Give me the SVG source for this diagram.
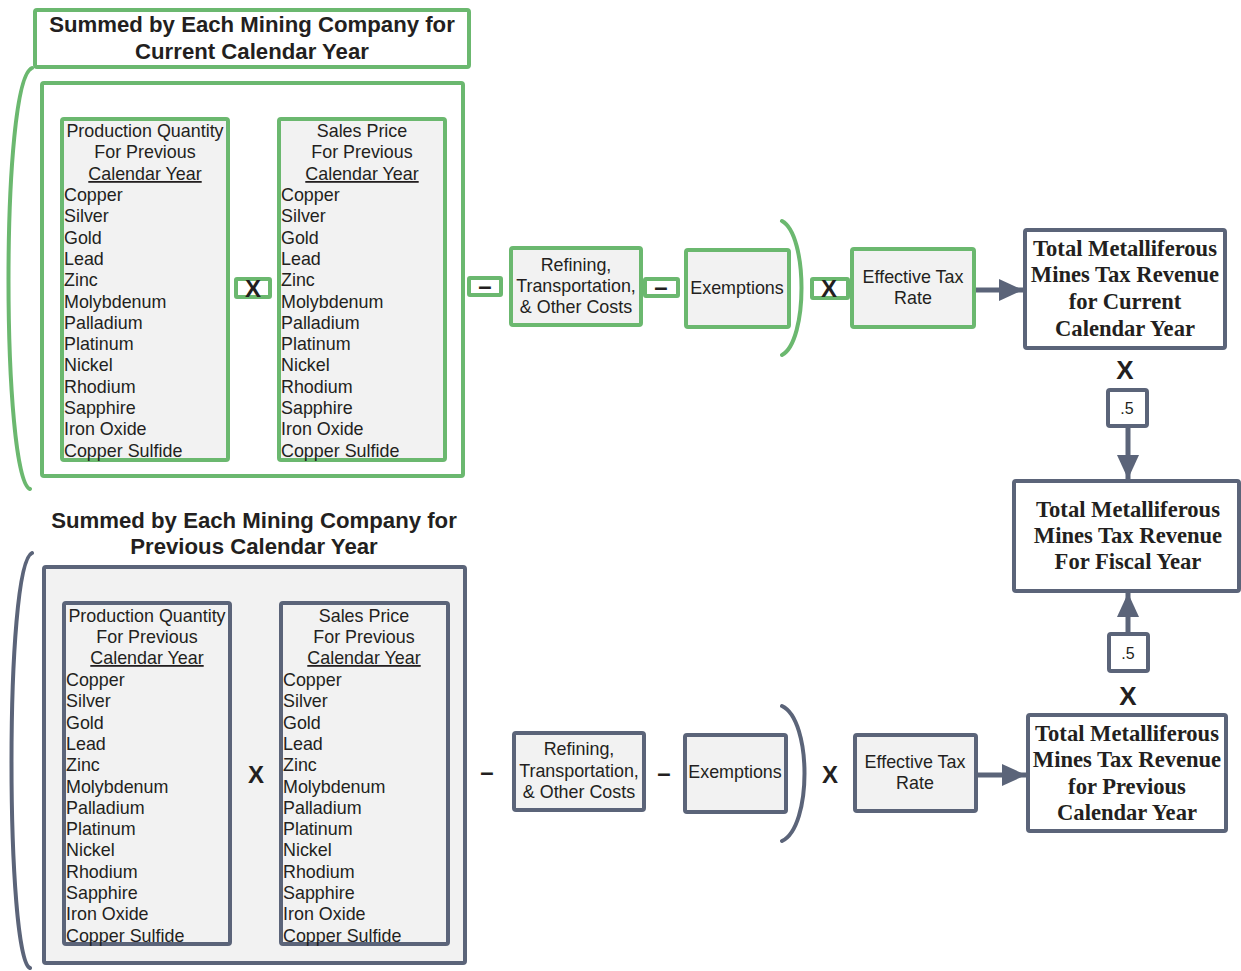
<svg xmlns="http://www.w3.org/2000/svg" width="1241" height="971" viewBox="0 0 1241 971">
<defs>
<style>
.g{stroke:#6bb86f;stroke-width:4;}
.s{stroke:#5b6479;stroke-width:4;}
.fw{fill:#ffffff;}
.fg{fill:#f2f2f2;}
.br{fill:none;stroke-width:4;stroke-linecap:round;}
text{font-family:"Liberation Sans",Arial,sans-serif;fill:#231f20;}
.t{font-size:17.9px;}
.c{text-anchor:middle;}
.u{text-decoration:underline;}
.title{font-size:22.2px;font-weight:bold;text-anchor:middle;}
.op{font-size:24px;font-weight:bold;text-anchor:middle;}
.sr{font-family:"Liberation Serif","Times New Roman",serif;font-size:22.6px;font-weight:bold;text-anchor:middle;}
.half{font-size:16px;text-anchor:middle;}
</style>
<marker id="ah" markerUnits="userSpaceOnUse" markerWidth="26" markerHeight="22" refX="24" refY="11" orient="auto">
<path d="M0,0 L24,11 L0,22 z" fill="#5b6479"/>
</marker>
</defs>

<g id="title-current">
<rect x="35" y="10" width="434" height="57" rx="2" class="g fw"/>
<text class="title" x="252" y="32">Summed by Each Mining Company for</text>
<text class="title" x="252" y="59">Current Calendar Year</text>
</g>

<g id="bracket-current"><path class="br" stroke="#6bb86f" d="M32,68 C0,80 2,480 30,489"/></g>

<g id="container-current"><rect x="42" y="83" width="421" height="393" rx="2" class="g fw"/></g>

<g id="qty-current">
<rect x="62" y="119" width="166" height="341" rx="2" class="g fg"/>
<text class="t c" x="145" y="137">Production Quantity</text>
<text class="t c" x="145" y="158">For Previous</text>
<text class="t c u" x="145" y="180">Calendar Year</text>
<text class="t" x="64" y="201">Copper</text>
<text class="t" x="64" y="222.3">Silver</text>
<text class="t" x="64" y="243.6">Gold</text>
<text class="t" x="64" y="264.9">Lead</text>
<text class="t" x="64" y="286.2">Zinc</text>
<text class="t" x="64" y="307.5">Molybdenum</text>
<text class="t" x="64" y="328.8">Palladium</text>
<text class="t" x="64" y="350.1">Platinum</text>
<text class="t" x="64" y="371.4">Nickel</text>
<text class="t" x="64" y="392.7">Rhodium</text>
<text class="t" x="64" y="414">Sapphire</text>
<text class="t" x="64" y="435.3">Iron Oxide</text>
<text class="t" x="64" y="456.6">Copper Sulfide</text>
</g>

<g id="op-x1"><rect x="236" y="279" width="34" height="18" rx="1" class="g fw"/><text class="op" x="253" y="297">X</text></g>

<g id="price-current">
<rect x="279" y="119" width="166" height="341" rx="2" class="g fg"/>
<text class="t c" x="362" y="137">Sales Price</text>
<text class="t c" x="362" y="158">For Previous</text>
<text class="t c u" x="362" y="180">Calendar Year</text>
<text class="t" x="281" y="201">Copper</text>
<text class="t" x="281" y="222.3">Silver</text>
<text class="t" x="281" y="243.6">Gold</text>
<text class="t" x="281" y="264.9">Lead</text>
<text class="t" x="281" y="286.2">Zinc</text>
<text class="t" x="281" y="307.5">Molybdenum</text>
<text class="t" x="281" y="328.8">Palladium</text>
<text class="t" x="281" y="350.1">Platinum</text>
<text class="t" x="281" y="371.4">Nickel</text>
<text class="t" x="281" y="392.7">Rhodium</text>
<text class="t" x="281" y="414">Sapphire</text>
<text class="t" x="281" y="435.3">Iron Oxide</text>
<text class="t" x="281" y="456.6">Copper Sulfide</text>
</g>

<g id="op-m1"><rect x="469" y="278" width="32" height="17" rx="1" class="g fw"/><text class="op" x="485" y="294">–</text></g>

<g id="refining-current">
<rect x="511" y="248" width="130" height="77" rx="2" class="g fg"/>
<text class="t c" x="576" y="271">Refining,</text>
<text class="t c" x="576" y="292">Transportation,</text>
<text class="t c" x="576" y="313">&amp; Other Costs</text>
</g>

<g id="op-m2"><rect x="645" y="279" width="33" height="17" rx="1" class="g fw"/><text class="op" x="661" y="295">–</text></g>

<g id="exemptions-current">
<rect x="686" y="250" width="103" height="77" rx="2" class="g fg"/>
<text class="t c" x="737" y="294">Exemptions</text>
</g>

<g id="paren-current"><path class="br" stroke="#6bb86f" d="M782,221 C808,235 808,341 782,355"/></g>

<g id="op-x2"><rect x="812" y="279" width="36" height="19" rx="1" class="g fw"/><text class="op" x="829" y="297">X</text></g>

<g id="rate-current">
<rect x="852" y="249" width="122" height="78" rx="2" class="g fg"/>
<text class="t c" x="913" y="283">Effective Tax</text>
<text class="t c" x="913" y="304">Rate</text>
</g>

<g id="total-current">
<rect x="1025" y="230" width="200" height="118" rx="2" class="s fw"/>
<text class="sr" x="1125" y="256">Total Metalliferous</text>
<text class="sr" x="1125" y="282">Mines Tax Revenue</text>
<text class="sr" x="1125" y="309">for Current</text>
<text class="sr" x="1125" y="336">Calendar Year</text>
</g>

<g id="op-x3"><text class="op" x="1125" y="379" style="font-size:26px">X</text></g>

<g id="half-current">
<rect x="1108" y="390" width="39" height="36" rx="2" class="s fw"/>
<text class="half" x="1127" y="414">.5</text>
</g>

<g id="total-fiscal">
<rect x="1014" y="481" width="225" height="110" rx="2" class="s fw"/>
<text class="sr" x="1128" y="517">Total Metalliferous</text>
<text class="sr" x="1128" y="543">Mines Tax Revenue</text>
<text class="sr" x="1128" y="569">For Fiscal Year</text>
</g>

<g id="half-previous">
<rect x="1109" y="634" width="39" height="37" rx="2" class="s fw"/>
<text class="half" x="1128" y="659">.5</text>
</g>

<g id="op-x4"><text class="op" x="1128" y="705" style="font-size:26px">X</text></g>

<g id="total-previous">
<rect x="1028" y="715" width="198" height="116" rx="2" class="s fw"/>
<text class="sr" x="1127" y="741">Total Metalliferous</text>
<text class="sr" x="1127" y="767">Mines Tax Revenue</text>
<text class="sr" x="1127" y="794">for Previous</text>
<text class="sr" x="1127" y="820">Calendar Year</text>
</g>

<g id="title-previous">
<text class="title" x="254" y="528">Summed by Each Mining Company for</text>
<text class="title" x="254" y="554">Previous Calendar Year</text>
</g>

<g id="bracket-previous"><path class="br" stroke="#5b6479" d="M32,553 C4,565 6,960 30,968"/></g>

<g id="container-previous"><rect x="44" y="567" width="421" height="396" rx="2" class="s fg"/></g>

<g id="qty-previous">
<rect x="64" y="603" width="166" height="341" rx="2" class="s fg"/>
<text class="t c" x="147" y="622">Production Quantity</text>
<text class="t c" x="147" y="643">For Previous</text>
<text class="t c u" x="147" y="664">Calendar Year</text>
<text class="t" x="66" y="686">Copper</text>
<text class="t" x="66" y="707.3">Silver</text>
<text class="t" x="66" y="728.6">Gold</text>
<text class="t" x="66" y="749.9">Lead</text>
<text class="t" x="66" y="771.2">Zinc</text>
<text class="t" x="66" y="792.5">Molybdenum</text>
<text class="t" x="66" y="813.8">Palladium</text>
<text class="t" x="66" y="835.1">Platinum</text>
<text class="t" x="66" y="856.4">Nickel</text>
<text class="t" x="66" y="877.7">Rhodium</text>
<text class="t" x="66" y="899">Sapphire</text>
<text class="t" x="66" y="920.3">Iron Oxide</text>
<text class="t" x="66" y="941.6">Copper Sulfide</text>
</g>

<g id="op-x5"><text class="op" x="256" y="783">X</text></g>

<g id="price-previous">
<rect x="281" y="603" width="167" height="341" rx="2" class="s fg"/>
<text class="t c" x="364" y="622">Sales Price</text>
<text class="t c" x="364" y="643">For Previous</text>
<text class="t c u" x="364" y="664">Calendar Year</text>
<text class="t" x="283" y="686">Copper</text>
<text class="t" x="283" y="707.3">Silver</text>
<text class="t" x="283" y="728.6">Gold</text>
<text class="t" x="283" y="749.9">Lead</text>
<text class="t" x="283" y="771.2">Zinc</text>
<text class="t" x="283" y="792.5">Molybdenum</text>
<text class="t" x="283" y="813.8">Palladium</text>
<text class="t" x="283" y="835.1">Platinum</text>
<text class="t" x="283" y="856.4">Nickel</text>
<text class="t" x="283" y="877.7">Rhodium</text>
<text class="t" x="283" y="899">Sapphire</text>
<text class="t" x="283" y="920.3">Iron Oxide</text>
<text class="t" x="283" y="941.6">Copper Sulfide</text>
</g>

<g id="op-m3"><text class="op" x="487" y="780">–</text></g>

<g id="refining-previous">
<rect x="514" y="733" width="130" height="77" rx="2" class="s fg"/>
<text class="t c" x="579" y="755">Refining,</text>
<text class="t c" x="579" y="777">Transportation,</text>
<text class="t c" x="579" y="798">&amp; Other Costs</text>
</g>

<g id="op-m4"><text class="op" x="664" y="781">–</text></g>

<g id="exemptions-previous">
<rect x="685" y="735" width="101" height="77" rx="2" class="s fg"/>
<text class="t c" x="735" y="778">Exemptions</text>
</g>

<g id="paren-previous"><path class="br" stroke="#5b6479" d="M782,706 C812,720 812,827 782,841"/></g>

<g id="op-x6"><text class="op" x="830" y="783">X</text></g>

<g id="rate-previous">
<rect x="855" y="735" width="121" height="76" rx="2" class="s fg"/>
<text class="t c" x="915" y="768">Effective Tax</text>
<text class="t c" x="915" y="789">Rate</text>
</g>

<g id="connectors" fill="none" stroke="#5b6479" stroke-width="5">
<line x1="976" y1="290" x2="1023" y2="290" marker-end="url(#ah)"/>
<line x1="1128" y1="428" x2="1128" y2="479" marker-end="url(#ah)"/>
<line x1="1128" y1="632" x2="1128" y2="593" marker-end="url(#ah)"/>
<line x1="978" y1="775" x2="1026" y2="775" marker-end="url(#ah)"/>
</g>
</svg>
